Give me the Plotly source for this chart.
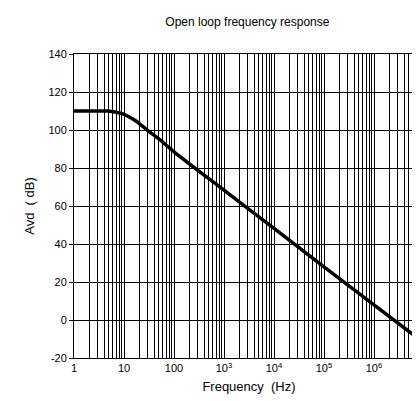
import plotly.graph_objects as go

# Data
freq_hz = [1, 3, 4.8, 7, 10, 15, 20, 30, 50, 100, 1e3, 1e4, 1e5, 1e6, 1e7]
gain_db = [110, 110, 110, 109.3, 108.2, 105.8, 103.5, 99.7, 95.3, 88.5, 68.3, 48.2, 28, 8, -12]

decades = [1, 10, 100, 1e3, 1e4, 1e5, 1e6, 1e7]
decade_labels = ["1", "10", "100", "10<sup>3</sup>", "10<sup>4</sup>",
                 "10<sup>5</sup>", "10<sup>6</sup>", "10<sup>7</sup>"]
y_ticks = [-20, 0, 20, 40, 60, 80, 100, 120, 140]
y_labels = ["-20", "0", "20", "40", "60", "80", "100", "120", "140"]

# grid positions (1..9 per decade) with labels only at decades
tickvals, ticktext = [], []
for d, lab in zip(decades[:-1], decade_labels[:-1]):
    for m in range(1, 10):
        tickvals.append(d * m)
        ticktext.append(lab if m == 1 else "")
tickvals.append(decades[-1])
ticktext.append(decade_labels[-1])

fig = go.Figure()
fig.add_trace(go.Scatter(
    x=freq_hz, y=gain_db, mode="lines",
    line=dict(color="black", width=3.5, shape="spline", smoothing=0.8),
    showlegend=False, hoverinfo="skip"))

font = "Liberation Sans, Arial, sans-serif"
fig.update_layout(
    template="none",
    width=420, height=401,
    margin=dict(l=66, r=4, t=46, b=51, autoexpand=False),
    paper_bgcolor="white", plot_bgcolor="white",
    font=dict(family=font, size=11, color="black"),
    title=dict(text="Open loop frequency response", x=0.57, xanchor="center",
               y=0.975, yanchor="top", font=dict(size=12, family=font, color="black")),
    xaxis=dict(type="log", range=[0, 7], tickvals=tickvals, ticktext=ticktext,
               showgrid=True, gridcolor="black", gridwidth=1,
               showline=True, linecolor="black", linewidth=1, mirror=True,
               ticks="", zeroline=False, automargin=False,
               ticklabeloverflow="allow",
               title=dict(text="Frequency  (Hz)", font=dict(size=13, color="black"), standoff=8),
               tickfont=dict(size=11, color="black")),
    yaxis=dict(range=[-20, 140], tickvals=y_ticks, ticktext=y_labels,
               showgrid=True, gridcolor="black", gridwidth=1,
               showline=True, linecolor="black", linewidth=1, mirror=True,
               ticks="outside", ticklen=4, tickcolor="black", zeroline=False,
               automargin=False,
               title=dict(text="Avd  ( dB)", font=dict(size=13, color="black"), standoff=10),
               tickfont=dict(size=11, color="black")),
)
fig.write_html("out.html")
